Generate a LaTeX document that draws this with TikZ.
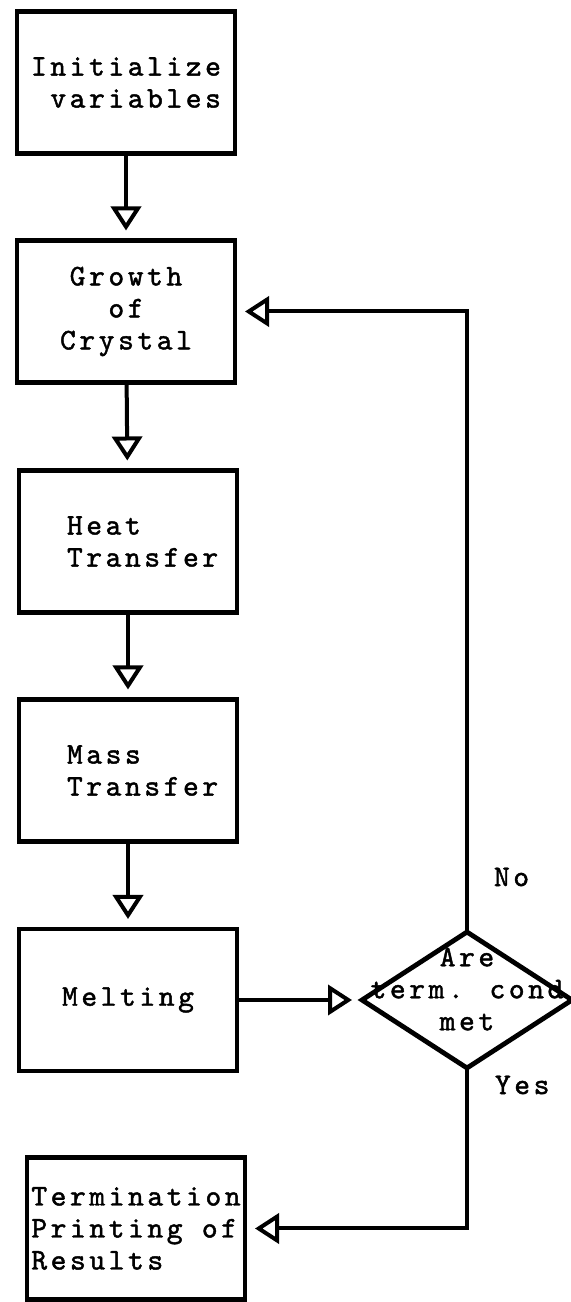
\documentclass[tikz,border=0pt]{standalone}
\usepackage{fontspec}
\newfontfamily\typewriter{lmmono10-regular.otf}[LetterSpace=12, FakeBold=1.5]
\usetikzlibrary{arrows.meta}
\usetikzlibrary{shapes.geometric}

\begin{document}
\begin{tikzpicture}[x=5pt, y=5pt,
    font=\typewriter\fontsize{15}{16}\selectfont,
    every node/.style={inner sep=2pt,outer sep=0pt},
    box/.style={draw, line width=2.4pt, minimum width=109pt, minimum height=71pt},
    lbox/.style={box, align=left, text width=61pt, inner xsep=24pt},
    cond/.style={diamond, draw, line width=2.4pt, minimum width=105pt, minimum height=68pt, inner sep=0pt},
    flow/.style={line width=2pt, -{Triangle[open, length=12pt, width=15pt]}, shorten >=5pt}]
      \useasboundingbox (0,0) rectangle (57.1,130.2);

      \draw (12.6,121.95) node[box, align=right] (init) {Initialize\\variables};
      \draw (12.6,99.05) node[box, align=center] (growth) {Growth\\of\\Crystal};
      \draw (12.8,76.05) node[lbox] (heat) {Heat\\Transfer};
      \draw (12.8,53.15) node[lbox] (mass) {Mass\\Transfer};
      \draw (12.8,30.2) node[box] (melt) {Melting};
      \draw (46.7,30.2) node[cond] (dec) {};
      \draw ([yshift=5.5pt]dec.center) node[align=center] (dectext) {Are\\term. cond\\met};
      \draw (13.6,7.35) node[box, align=left] (term) {Termination\\Printing of\\Results};

      \draw (49.0,42.5) node[anchor=west] (no) {No};
      \draw (49.1,21.7) node[anchor=west] (yes) {Yes};

      \draw[flow] (init) -- (growth);
      \draw[flow] (growth) -- (heat);
      \draw[flow] (heat) -- (mass);
      \draw[flow] (mass) -- (melt);
      \draw[flow] (melt) -- (dec);

      % loop back while not done
      \draw[flow] (dec.north) |- (growth.east);
      \draw[flow] (dec.south) |- (term.east);
    \end{tikzpicture}
\end{document}
